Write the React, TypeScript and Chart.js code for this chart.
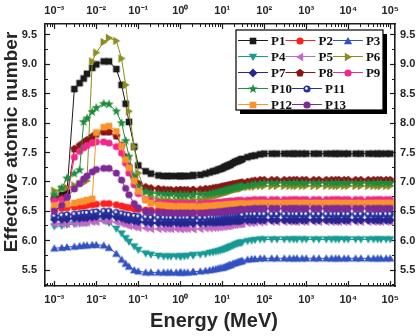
import React, { useEffect, useRef } from 'react';
import { Chart, registerables } from 'chart.js';

Chart.register(...registerables);

// Photon energy grid (MeV)
const ENERGY = [
  0.001, 0.0015, 0.002, 0.003, 0.004, 0.005, 0.006, 0.008, 0.01,
  0.015, 0.02, 0.03, 0.04, 0.05, 0.06, 0.08, 0.1, 0.15, 0.2,
  0.3, 0.4, 0.5, 0.6, 0.8, 1, 1.022, 1.25, 1.5, 2, 2.044,
  3, 4, 5, 6, 7, 8, 9, 10, 11, 12, 13, 14, 15, 16, 18, 20, 22, 24, 26, 28, 30,
  40, 50, 60, 80, 100, 150, 200, 300, 400, 500, 600, 800,
  1000, 1500, 2000, 3000, 4000, 5000, 6000, 8000, 10000, 15000, 20000, 30000, 40000, 50000, 60000, 80000, 100000,
];

// Effective atomic number of each sample
const P1 = [
  6.72, 6.78, 6.82, 8.58, 8.68, 8.76, 8.84, 8.94, 9.0,
  9.05, 9.05, 8.92, 8.65, 8.33, 8.02, 7.6, 7.28, 7.18, 7.14,
  7.11, 7.1, 7.1, 7.1, 7.1, 7.1, 7.1, 7.1, 7.1, 7.11, 7.11,
  7.12, 7.14, 7.16, 7.18, 7.19, 7.21, 7.22, 7.23, 7.25, 7.26, 7.27, 7.28, 7.29, 7.3, 7.32, 7.34, 7.35, 7.36, 7.37, 7.38, 7.39,
  7.42, 7.44, 7.45, 7.47, 7.48, 7.48, 7.48, 7.48, 7.48, 7.48, 7.48, 7.48,
  7.48, 7.48, 7.48, 7.48, 7.48, 7.48, 7.48, 7.48, 7.48, 7.48, 7.48, 7.48, 7.48, 7.48, 7.48, 7.48, 7.48,
];
const P2 = [
  6.54, 6.55, 6.56, 6.57, 6.58, 6.59, 6.6, 6.61, 6.62,
  6.63, 6.63, 6.61, 6.59, 6.57, 6.56, 6.54, 6.53, 6.52, 6.52,
  6.52, 6.52, 6.52, 6.52, 6.52, 6.52, 6.52, 6.52, 6.52, 6.52, 6.52,
  6.52, 6.53, 6.53, 6.54, 6.54, 6.55, 6.55, 6.55, 6.56, 6.56, 6.56, 6.57, 6.57, 6.57, 6.58, 6.58, 6.58, 6.59, 6.59, 6.59, 6.59,
  6.6, 6.61, 6.61, 6.62, 6.62, 6.62, 6.62, 6.62, 6.62, 6.62, 6.62, 6.62,
  6.62, 6.62, 6.62, 6.62, 6.62, 6.62, 6.62, 6.62, 6.62, 6.62, 6.62, 6.62, 6.62, 6.62, 6.62, 6.62, 6.62,
];
const P3 = [
  5.87, 5.88, 5.89, 5.9, 5.91, 5.92, 5.92, 5.93, 5.93,
  5.92, 5.88, 5.78, 5.68, 5.61, 5.56, 5.5, 5.48, 5.46, 5.46,
  5.46, 5.46, 5.46, 5.46, 5.46, 5.46, 5.46, 5.46, 5.46, 5.47, 5.47,
  5.48, 5.49, 5.5, 5.51, 5.52, 5.53, 5.54, 5.54, 5.55, 5.56, 5.57, 5.58, 5.59, 5.59, 5.61, 5.62, 5.63, 5.64, 5.65, 5.65, 5.66,
  5.68, 5.69, 5.69, 5.7, 5.7, 5.7, 5.7, 5.7, 5.7, 5.7, 5.7, 5.7,
  5.7, 5.7, 5.7, 5.7, 5.7, 5.7, 5.7, 5.7, 5.7, 5.7, 5.7, 5.7, 5.7, 5.7, 5.7, 5.7, 5.7,
];
const P4 = [
  6.24, 6.25, 6.27, 6.28, 6.29, 6.3, 6.31, 6.33, 6.34,
  6.34, 6.3, 6.2, 6.12, 6.04, 5.98, 5.9, 5.84, 5.78, 5.76,
  5.74, 5.73, 5.73, 5.73, 5.73, 5.73, 5.73, 5.73, 5.74, 5.75, 5.75,
  5.76, 5.77, 5.79, 5.8, 5.81, 5.82, 5.83, 5.84, 5.85, 5.86, 5.87, 5.88, 5.89, 5.9, 5.91, 5.93, 5.94, 5.95, 5.96, 5.96, 5.97,
  5.99, 6.0, 6.01, 6.02, 6.02, 6.02, 6.02, 6.02, 6.02, 6.02, 6.02, 6.02,
  6.02, 6.02, 6.02, 6.02, 6.02, 6.02, 6.02, 6.02, 6.02, 6.02, 6.02, 6.02, 6.02, 6.02, 6.02, 6.02, 6.02,
];
const P5 = [
  6.28, 6.28, 6.29, 6.29, 6.3, 6.3, 6.31, 6.32, 6.32,
  6.33, 6.33, 6.31, 6.29, 6.27, 6.25, 6.23, 6.22, 6.21, 6.2,
  6.2, 6.2, 6.2, 6.2, 6.2, 6.2, 6.2, 6.2, 6.2, 6.2, 6.2,
  6.2, 6.21, 6.21, 6.22, 6.22, 6.23, 6.23, 6.24, 6.24, 6.25, 6.25, 6.25, 6.26, 6.26, 6.27, 6.27, 6.28, 6.28, 6.28, 6.29, 6.29,
  6.3, 6.3, 6.31, 6.31, 6.32, 6.32, 6.32, 6.32, 6.32, 6.32, 6.32, 6.32,
  6.32, 6.32, 6.32, 6.32, 6.32, 6.32, 6.32, 6.32, 6.32, 6.32, 6.32, 6.32, 6.32, 6.32, 6.32, 6.32, 6.32,
];
const P6 = [
  6.85, 6.88, 6.9, 6.94, 6.97, 6.99, 7.02, 9.05, 9.2,
  9.38, 9.45, 9.4, 9.1, 8.65, 8.2, 7.6, 7.15, 6.82, 6.74,
  6.7, 6.69, 6.68, 6.68, 6.68, 6.68, 6.68, 6.68, 6.68, 6.69, 6.69,
  6.7, 6.72, 6.74, 6.75, 6.77, 6.78, 6.79, 6.8, 6.81, 6.82, 6.83, 6.83, 6.84, 6.85, 6.86, 6.87, 6.88, 6.88, 6.89, 6.89, 6.9,
  6.91, 6.92, 6.92, 6.93, 6.93, 6.93, 6.93, 6.93, 6.93, 6.93, 6.93, 6.93,
  6.93, 6.93, 6.93, 6.93, 6.93, 6.93, 6.93, 6.93, 6.93, 6.93, 6.93, 6.93, 6.93, 6.93, 6.93, 6.93, 6.93,
];
const P7 = [
  6.36, 6.36, 6.37, 6.38, 6.38, 6.39, 6.39, 6.4, 6.41,
  6.42, 6.42, 6.4, 6.38, 6.36, 6.35, 6.33, 6.32, 6.31, 6.3,
  6.3, 6.3, 6.3, 6.3, 6.3, 6.3, 6.3, 6.3, 6.3, 6.3, 6.3,
  6.3, 6.3, 6.31, 6.31, 6.31, 6.32, 6.32, 6.32, 6.32, 6.33, 6.33, 6.33, 6.33, 6.33, 6.34, 6.34, 6.34, 6.34, 6.34, 6.35, 6.35,
  6.35, 6.35, 6.35, 6.35, 6.35, 6.35, 6.35, 6.35, 6.35, 6.35, 6.35, 6.35,
  6.35, 6.35, 6.35, 6.35, 6.35, 6.35, 6.35, 6.35, 6.35, 6.35, 6.35, 6.35, 6.35, 6.35, 6.35, 6.35, 6.35,
];
const P8 = [
  6.7, 6.72, 6.74, 7.56, 7.62, 7.67, 7.71, 7.77, 7.81,
  7.85, 7.85, 7.78, 7.62, 7.42, 7.26, 7.06, 6.97, 6.91, 6.89,
  6.88, 6.87, 6.86, 6.86, 6.86, 6.86, 6.86, 6.86, 6.86, 6.86, 6.86,
  6.87, 6.88, 6.88, 6.89, 6.9, 6.9, 6.91, 6.92, 6.92, 6.93, 6.93, 6.94, 6.94, 6.95, 6.96, 6.96, 6.97, 6.97, 6.98, 6.98, 6.99,
  7.0, 7.01, 7.02, 7.03, 7.03, 7.03, 7.03, 7.03, 7.03, 7.03, 7.03, 7.03,
  7.03, 7.03, 7.03, 7.03, 7.03, 7.03, 7.03, 7.03, 7.03, 7.03, 7.03, 7.03, 7.03, 7.03, 7.03, 7.03, 7.03,
];
const P9 = [
  6.68, 6.7, 6.74, 7.42, 7.52, 7.58, 7.62, 7.66, 7.68,
  7.68, 7.66, 7.6, 7.49, 7.32, 7.15, 6.95, 6.8, 6.7, 6.67,
  6.65, 6.64, 6.64, 6.64, 6.63, 6.63, 6.63, 6.63, 6.63, 6.63, 6.63,
  6.63, 6.64, 6.64, 6.64, 6.65, 6.65, 6.65, 6.65, 6.66, 6.66, 6.66, 6.66, 6.67, 6.67, 6.67, 6.67, 6.68, 6.68, 6.68, 6.68, 6.68,
  6.69, 6.69, 6.7, 6.7, 6.7, 6.7, 6.7, 6.7, 6.7, 6.7, 6.7, 6.7,
  6.7, 6.7, 6.7, 6.7, 6.7, 6.7, 6.7, 6.7, 6.7, 6.7, 6.7, 6.7, 6.7, 6.7, 6.7, 6.7, 6.7,
];
const P10 = [
  6.78, 6.9, 7.06, 7.14, 7.2, 8.02, 8.08, 8.19, 8.26,
  8.33, 8.32, 8.2, 8.0, 7.7, 7.43, 7.09, 6.92, 6.84, 6.81,
  6.8, 6.79, 6.79, 6.79, 6.78, 6.78, 6.78, 6.78, 6.78, 6.78, 6.78,
  6.79, 6.79, 6.8, 6.81, 6.82, 6.83, 6.84, 6.84, 6.85, 6.86, 6.86, 6.87, 6.88, 6.88, 6.89, 6.9, 6.91, 6.91, 6.92, 6.92, 6.93,
  6.94, 6.95, 6.96, 6.97, 6.98, 6.98, 6.98, 6.98, 6.98, 6.98, 6.98, 6.98,
  6.98, 6.98, 6.98, 6.98, 6.98, 6.98, 6.98, 6.98, 6.98, 6.98, 6.98, 6.98, 6.98, 6.98, 6.98, 6.98, 6.98,
];
const P11 = [
  6.42, 6.43, 6.44, 6.45, 6.46, 6.47, 6.47, 6.48, 6.49,
  6.5, 6.5, 6.48, 6.46, 6.44, 6.43, 6.42, 6.41, 6.4, 6.39,
  6.39, 6.39, 6.39, 6.39, 6.39, 6.39, 6.39, 6.39, 6.39, 6.39, 6.39,
  6.39, 6.39, 6.4, 6.4, 6.4, 6.41, 6.41, 6.41, 6.42, 6.42, 6.42, 6.42, 6.43, 6.43, 6.43, 6.43, 6.44, 6.44, 6.44, 6.44, 6.44,
  6.45, 6.45, 6.45, 6.45, 6.45, 6.45, 6.45, 6.45, 6.45, 6.45, 6.45, 6.45,
  6.45, 6.45, 6.45, 6.45, 6.45, 6.45, 6.45, 6.45, 6.45, 6.45, 6.45, 6.45, 6.45, 6.45, 6.45, 6.45, 6.45,
];
const P12 = [
  6.6, 6.61, 6.62, 6.64, 6.66, 6.67, 6.69, 6.71, 7.84,
  7.93, 7.95, 7.86, 7.61, 7.38, 7.24, 7.02, 6.84, 6.69, 6.64,
  6.61, 6.6, 6.59, 6.59, 6.58, 6.58, 6.58, 6.58, 6.58, 6.58, 6.58,
  6.58, 6.59, 6.59, 6.59, 6.6, 6.6, 6.6, 6.6, 6.6, 6.61, 6.61, 6.61, 6.61, 6.61, 6.62, 6.62, 6.62, 6.62, 6.62, 6.63, 6.63,
  6.63, 6.63, 6.64, 6.64, 6.64, 6.64, 6.64, 6.64, 6.64, 6.64, 6.64, 6.64,
  6.64, 6.64, 6.64, 6.64, 6.64, 6.64, 6.64, 6.64, 6.64, 6.64, 6.64, 6.64, 6.64, 6.64, 6.64, 6.64, 6.64,
];
const P13 = [
  6.5, 6.6, 6.74, 6.88, 6.97, 7.05, 7.1, 7.17, 7.21,
  7.23, 7.23, 7.15, 7.03, 6.89, 6.78, 6.63, 6.56, 6.5, 6.49,
  6.48, 6.48, 6.47, 6.47, 6.47, 6.47, 6.47, 6.47, 6.47, 6.47, 6.47,
  6.47, 6.47, 6.48, 6.48, 6.48, 6.49, 6.49, 6.49, 6.5, 6.5, 6.5, 6.5, 6.51, 6.51, 6.51, 6.52, 6.52, 6.52, 6.53, 6.53, 6.53,
  6.54, 6.54, 6.55, 6.55, 6.55, 6.55, 6.55, 6.55, 6.55, 6.55, 6.55, 6.55,
  6.55, 6.55, 6.55, 6.55, 6.55, 6.55, 6.55, 6.55, 6.55, 6.55, 6.55, 6.55, 6.55, 6.55, 6.55, 6.55, 6.55,
];

const SERIES_NAMES = ['P1', 'P2', 'P3', 'P4', 'P5', 'P6', 'P7', 'P8', 'P9', 'P10', 'P11', 'P12', 'P13'];
const SERIES_VALUES = [P1, P2, P3, P4, P5, P6, P7, P8, P9, P10, P11, P12, P13];
const SERIES_COLORS = [
  '#1a1a1a', '#ff1f1f', '#3352c2', '#159a94', '#c269c6', '#8c8c20', '#262690',
  '#8a1515', '#f0288c', '#1e8c3c', '#26309a', '#f7942c', '#7d2a96',
];
const SERIES_SHAPES = [
  'square', 'circle', 'triUp', 'triDown', 'triLeft', 'triRight', 'diamond',
  'pentagon', 'circle', 'star', 'dotCircle', 'square', 'circle',
];
// Legend rows (indices into the series lists)
const LEGEND_ROWS = [[0, 1, 2], [3, 4, 5], [6, 7, 8], [9, 10], [11, 12]];

const X_TITLE = 'Energy (MeV)';
const Y_TITLE = 'Effective atomic number';
const X_MIN = 6.1e-4;
const X_MAX = 1.3e5;
const Y_MIN = 5.228;
const Y_MAX = 9.687;
const X_MAJOR = [1e-3, 1e-2, 1e-1, 1, 10, 100, 1000, 1e4, 1e5];
const X_TICK_LABELS = ['10⁻³', '10⁻²', '10⁻¹', '10⁰', '10¹', '10²', '10³', '10⁴', '10⁵'];
const Y_MAJOR = [5.5, 6.0, 6.5, 7.0, 7.5, 8.0, 8.5, 9.0, 9.5];
const Y_MINOR = [5.25, 5.75, 6.25, 6.75, 7.25, 7.75, 8.25, 8.75, 9.25];

const SANS = "'Liberation Sans', Arial, Helvetica, sans-serif";
const SERIF = "'Liberation Serif', 'Times New Roman', serif";
const AXIS_COLOR = '#1c1c1c';
const TEXT_COLOR = '#262626';

// log-axis minor tick positions (2..9 x 10^n)
function logMinorTicks(min: number, max: number): number[] {
  const out: number[] = [];
  for (let e = Math.floor(Math.log10(min)); e <= Math.ceil(Math.log10(max)); e++) {
    for (let m = 2; m <= 9; m++) {
      const v = m * Math.pow(10, e);
      if (v >= min && v <= max) out.push(v);
    }
  }
  return out;
}

function polygon(g: CanvasRenderingContext2D, n: number, r: number, startDeg: number) {
  for (let k = 0; k < n; k++) {
    const a = ((startDeg + (k * 360) / n) * Math.PI) / 180;
    const px = r * Math.cos(a);
    const py = r * Math.sin(a);
    if (k === 0) g.moveTo(px, py);
    else g.lineTo(px, py);
  }
  g.closePath();
}

function makeMarker(shape: string, color: string): HTMLCanvasElement {
  const c = document.createElement('canvas');
  c.width = 12;
  c.height = 12;
  const g = c.getContext('2d') as CanvasRenderingContext2D;
  g.translate(6, 6);
  g.fillStyle = color;
  g.beginPath();
  switch (shape) {
    case 'square':
      g.rect(-3.3, -3.3, 6.6, 6.6);
      break;
    case 'circle':
    case 'dotCircle':
      g.arc(0, 0, 3.6, 0, Math.PI * 2);
      break;
    case 'triUp':
      g.translate(0, 0.8);
      polygon(g, 3, 4.8, -90);
      break;
    case 'triDown':
      g.translate(0, -0.8);
      polygon(g, 3, 4.8, 90);
      break;
    case 'triLeft':
      g.translate(0.8, 0);
      polygon(g, 3, 4.8, 180);
      break;
    case 'triRight':
      g.translate(-0.8, 0);
      polygon(g, 3, 4.8, 0);
      break;
    case 'diamond':
      polygon(g, 4, 4.4, -90);
      break;
    case 'pentagon':
      polygon(g, 5, 4.2, -90);
      break;
    case 'star': {
      for (let k = 0; k < 10; k++) {
        const r = k % 2 === 0 ? 5 : 2.1;
        const a = ((-90 + k * 36) * Math.PI) / 180;
        if (k === 0) g.moveTo(r * Math.cos(a), r * Math.sin(a));
        else g.lineTo(r * Math.cos(a), r * Math.sin(a));
      }
      g.closePath();
      break;
    }
    default:
      g.rect(-3, -3, 6, 6);
  }
  g.fill();
  if (shape === 'dotCircle') {
    g.fillStyle = '#ffffff';
    g.beginPath();
    g.arc(-0.6, -0.6, 1.3, 0, Math.PI * 2);
    g.fill();
  }
  return c;
}

export default function App() {
  const canvasRef = useRef<HTMLCanvasElement | null>(null);

  useEffect(() => {
    const canvas = canvasRef.current;
    if (!canvas) return;

    const markers = SERIES_SHAPES.map((s, i) => makeMarker(s, SERIES_COLORS[i]));

    const datasets = SERIES_NAMES.map((name, i) => ({
      label: name,
      data: ENERGY.map((e, k) => ({ x: e, y: SERIES_VALUES[i][k] })),
      borderColor: SERIES_COLORS[i],
      backgroundColor: SERIES_COLORS[i],
      borderWidth: 1,
      pointStyle: markers[i],
      pointRadius: 4,
      order: SERIES_NAMES.length - i,
      tension: 0,
      xAxisID: 'x',
      yAxisID: 'y',
    }));

    const tickFont = { family: SANS, size: 11, weight: 'bold' as const };
    const xMinor = logMinorTicks(X_MIN, X_MAX);

    const xLabel = (v: number) => {
      const k = X_MAJOR.findIndex((m) => Math.abs(Math.log10(m) - Math.log10(v)) < 1e-6);
      return k >= 0 ? X_TICK_LABELS[k] : '';
    };

    const majorGrid = { drawOnChartArea: false, drawTicks: true, tickLength: -5, tickWidth: 1.2, tickColor: AXIS_COLOR };
    const minorGrid = { drawOnChartArea: false, drawTicks: true, tickLength: -3, tickWidth: 1, tickColor: AXIS_COLOR };
    const frame = { display: true, color: AXIS_COLOR, width: 1.6 };
    const noFrame = { display: false };

    const overlay = {
      id: 'titlesAndLegend',
      afterDraw(chart: any) {
        const ctx: CanvasRenderingContext2D = chart.ctx;
        const area = chart.chartArea;
        ctx.save();
        ctx.fillStyle = TEXT_COLOR;
        ctx.textAlign = 'center';
        ctx.textBaseline = 'middle';
        ctx.font = `bold 20px ${SANS}`;
        ctx.fillText(X_TITLE, (area.left + area.right) / 2 - 6, 321);
        ctx.save();
        ctx.translate(12, (area.top + area.bottom) / 2 - 13);
        ctx.rotate(-Math.PI / 2);
        ctx.font = `bold 19px ${SANS}`;
        ctx.fillText(Y_TITLE, 0, 0);
        ctx.restore();

        // legend box with drop shadow
        const bx = 236, by = 30, bw = 147, bh = 80;
        ctx.fillStyle = '#000';
        ctx.fillRect(bx + 4, by + 4, bw, bh);
        ctx.fillStyle = '#fff';
        ctx.fillRect(bx, by, bw, bh);
        ctx.strokeStyle = '#000';
        ctx.lineWidth = 1.2;
        ctx.strokeRect(bx, by, bw, bh);

        ctx.font = `bold 13px ${SERIF}`;
        ctx.textAlign = 'left';
        ctx.textBaseline = 'middle';
        LEGEND_ROWS.forEach((row, r) => {
          const y = 40.5 + r * 16;
          let x = 238;
          row.forEach((i) => {
            ctx.strokeStyle = SERIES_COLORS[i];
            ctx.lineWidth = 1;
            ctx.beginPath();
            ctx.moveTo(x, y);
            ctx.lineTo(x + 30, y);
            ctx.stroke();
            const m = markers[i];
            ctx.drawImage(m, Math.round(x + 15 - m.width / 2), Math.round(y - m.height / 2));
            ctx.fillStyle = '#111';
            ctx.fillText(SERIES_NAMES[i], x + 33, y + 1);
            x += 33 + ctx.measureText(SERIES_NAMES[i]).width;
          });
        });
        ctx.restore();
      },
    };

    const chart = new Chart(canvas, {
      type: 'line',
      data: { datasets },
      options: {
        animation: false,
        responsive: false,
        devicePixelRatio: 1,
        layout: { padding: 0 },
        plugins: { legend: { display: false }, tooltip: { enabled: false } },
        scales: {
          x: {
            type: 'logarithmic', position: 'bottom', min: X_MIN, max: X_MAX, weight: 2,
            afterBuildTicks: (s: any) => { s.ticks = X_MAJOR.map((v) => ({ value: v })); },
            afterFit: (s: any) => { s.height = 50; },
            ticks: { autoSkip: false, maxRotation: 0, padding: 12, color: TEXT_COLOR, font: tickFont, callback: (v: any) => xLabel(Number(v)) },
            grid: majorGrid, border: frame,
          },
          xMinor: {
            type: 'logarithmic', position: 'bottom', min: X_MIN, max: X_MAX, weight: 1,
            afterBuildTicks: (s: any) => { s.ticks = xMinor.map((v) => ({ value: v })); },
            afterFit: (s: any) => { s.height = 0; },
            ticks: { display: false, autoSkip: false },
            grid: minorGrid, border: noFrame,
          },
          xTop: {
            type: 'logarithmic', position: 'top', min: X_MIN, max: X_MAX, weight: 2,
            afterBuildTicks: (s: any) => { s.ticks = X_MAJOR.map((v) => ({ value: v })); },
            afterFit: (s: any) => { s.height = 24; },
            ticks: { autoSkip: false, maxRotation: 0, padding: 11, color: TEXT_COLOR, font: tickFont, callback: (v: any) => xLabel(Number(v)) },
            grid: majorGrid, border: frame,
          },
          xTopMinor: {
            type: 'logarithmic', position: 'top', min: X_MIN, max: X_MAX, weight: 1,
            afterBuildTicks: (s: any) => { s.ticks = xMinor.map((v) => ({ value: v })); },
            afterFit: (s: any) => { s.height = 0; },
            ticks: { display: false, autoSkip: false },
            grid: minorGrid, border: noFrame,
          },
          y: {
            type: 'linear', position: 'left', min: Y_MIN, max: Y_MAX, weight: 2,
            afterBuildTicks: (s: any) => { s.ticks = Y_MAJOR.map((v) => ({ value: v })); },
            afterFit: (s: any) => { s.width = 45; },
            ticks: { autoSkip: false, padding: 13, color: TEXT_COLOR, font: tickFont, callback: (v: any) => Number(v).toFixed(1) },
            grid: majorGrid, border: frame,
          },
          yMinor: {
            type: 'linear', position: 'left', min: Y_MIN, max: Y_MAX, weight: 1,
            afterBuildTicks: (s: any) => { s.ticks = Y_MINOR.map((v) => ({ value: v })); },
            afterFit: (s: any) => { s.width = 0; },
            ticks: { display: false, autoSkip: false },
            grid: minorGrid, border: noFrame,
          },
          yRight: {
            type: 'linear', position: 'right', min: Y_MIN, max: Y_MAX, weight: 2,
            afterBuildTicks: (s: any) => { s.ticks = Y_MAJOR.map((v) => ({ value: v })); },
            afterFit: (s: any) => { s.width = 24; },
            ticks: { autoSkip: false, padding: 10, color: TEXT_COLOR, font: tickFont, callback: (v: any) => Number(v).toFixed(1) },
            grid: majorGrid, border: frame,
          },
          yRightMinor: {
            type: 'linear', position: 'right', min: Y_MIN, max: Y_MAX, weight: 1,
            afterBuildTicks: (s: any) => { s.ticks = Y_MINOR.map((v) => ({ value: v })); },
            afterFit: (s: any) => { s.width = 0; },
            ticks: { display: false, autoSkip: false },
            grid: minorGrid, border: noFrame,
          },
        },
      } as any,
      plugins: [overlay],
    });

    return () => chart.destroy();
  }, []);

  return (
    <div style={{ position: 'absolute', left: 0, top: 0, width: 419, height: 336, background: '#fff' }}>
      <canvas ref={canvasRef} width={419} height={336} style={{ display: 'block' }} />
    </div>
  );
}
